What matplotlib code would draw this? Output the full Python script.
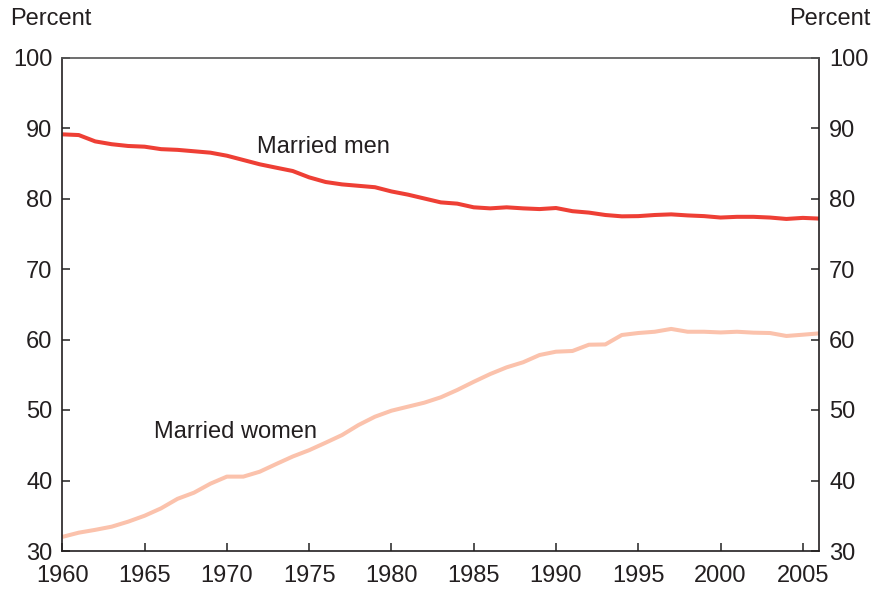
import matplotlib
matplotlib.use("Agg")
import matplotlib.pyplot as plt

years = list(range(1960, 2007))
married_men = [89.1, 89.0, 88.1, 87.7, 87.45, 87.35, 87.0, 86.9, 86.7, 86.5,
               86.07, 85.46, 84.85, 84.37, 83.9, 83.0, 82.34, 82.0, 81.8, 81.6,
               81.0, 80.55, 80.0, 79.45, 79.27, 78.75, 78.6, 78.75, 78.6, 78.5,
               78.65, 78.2, 78.0, 77.66, 77.47, 77.5, 77.66, 77.75, 77.6, 77.5,
               77.3, 77.4, 77.4, 77.3, 77.1, 77.25, 77.15]
married_women = [32.0, 32.6, 33.0, 33.45, 34.16, 35.0, 36.05, 37.4, 38.27, 39.55,
                 40.55, 40.55, 41.25, 42.34, 43.4, 44.3, 45.36, 46.45, 47.87, 49.05,
                 49.9, 50.47, 51.04, 51.8, 52.84, 54.0, 55.1, 56.05, 56.77, 57.8,
                 58.27, 58.37, 59.26, 59.3, 60.64, 60.92, 61.1, 61.5, 61.1, 61.1,
                 61.0, 61.1, 60.97, 60.92, 60.5, 60.68, 60.87]
xticks = [1960, 1965, 1970, 1975, 1980, 1985, 1990, 1995, 2000, 2005]
yticks = [30, 40, 50, 60, 70, 80, 90, 100]

plt.rcParams['font.family'] = ['Liberation Sans', 'DejaVu Sans']

W, H = 895, 591
fig = plt.figure(figsize=(W / 100, H / 100), dpi=100)
left, right, top, bottom = 62.3, 819.3, 57.5, 551
ax = fig.add_axes([left / W, 1 - bottom / H, (right - left) / W, (bottom - top) / H])

ax.plot(years, married_men, color='#EE3F35', lw=2.9, solid_capstyle='butt')
ax.plot(years, married_women, color='#FBC2AC', lw=2.9, solid_capstyle='butt')

ax.set_xlim(1960, 2006)
ax.set_ylim(30, 100)
ax.set_xticks(xticks)
ax.set_yticks(yticks)

fs = 17
ax.tick_params(axis='both', direction='in', length=6, width=1.2, color='#333333',
               labelsize=fs, labelcolor='#231f20')
ax.tick_params(axis='y', left=True, right=True, labelleft=True, labelright=True, pad=7)
ax.tick_params(axis='x', pad=10)

for s in ['left', 'bottom', 'right']:
    ax.spines[s].set_color('#231f20')
    ax.spines[s].set_linewidth(1.2)
ax.spines['top'].set_color('#555555')
ax.spines['top'].set_linewidth(1.2)

fig.text(10 / W, 1 - 19 / H, 'Percent', fontsize=fs, color='#231f20', ha='left', va='center')
fig.text(871 / W, 1 - 19 / H, 'Percent', fontsize=fs, color='#231f20', ha='right', va='center')

ax.text(1971.85, 87.3, 'Married men', fontsize=fs, color='#231f20', ha='left', va='center')
ax.text(1965.6, 46.95, 'Married women', fontsize=fs, color='#231f20', ha='left', va='center')

fig.savefig('out.png', dpi=100)
